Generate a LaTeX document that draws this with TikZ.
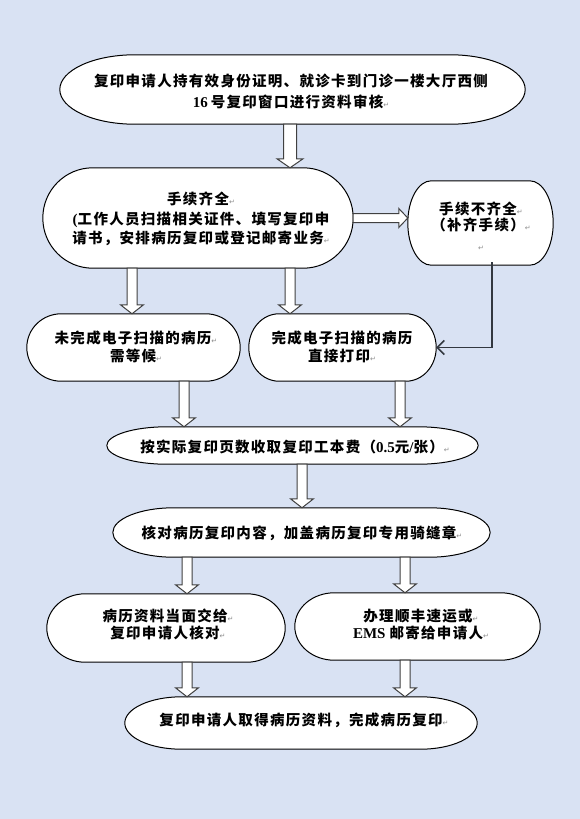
\documentclass[tikz,border=0pt]{standalone}
\usepackage{fontspec}
\usetikzlibrary{calc,arrows.meta}
\newfontfamily\cjk{Noto Sans CJK SC}[LetterSpace=9]
\newfontfamily\latf{Liberation Serif}
\newfontfamily\djv{DejaVu Sans}
\definecolor{pagebg}{HTML}{D9E2F3}
\definecolor{arrgray}{HTML}{404040}
\definecolor{arrdark}{HTML}{333840}
\definecolor{markgray}{HTML}{8C8C8C}
\newcommand\rmk{{\djv\mdseries\fontsize{7}{7}\selectfont\textcolor{markgray}{↵}}}
\newcommand\lt[1]{{\latf\bfseries\fontsize{15}{19}\selectfont #1}}
\pgfdeclarelayer{bgl}
\pgfdeclarelayer{shp}
\pgfsetlayers{bgl,shp,main}
\tikzset{
  shapeline/.style={draw=black, fill=white, line width=1pt},
  shp/.style 2 args={minimum width=#1pt, minimum height=#2pt, inner sep=0pt, draw=none},
  txt/.style={align=center, inner sep=0pt, font=\cjk\bfseries\fontsize{14.5}{#1}\selectfont},
  txt/.default=19,
  blkd/.style args={#1/#2/#3}{draw=arrgray, fill=white, line width=1pt, line join=miter,
    to path={let \p1=(\tikztostart), \p2=(\tikztotarget) in
      (\x1-#1pt,\y1) -- (\x1-#1pt,\y2+#3pt) -- (\x1-#2pt,\y2+#3pt) -- (\x1,\y2)
      -- (\x1+#2pt,\y2+#3pt) -- (\x1+#1pt,\y2+#3pt) -- (\x1+#1pt,\y1) -- cycle}},
  blkr/.style args={#1/#2/#3}{draw=arrgray, fill=white, line width=1pt, line join=miter,
    to path={let \p1=(\tikztostart), \p2=(\tikztotarget) in
      (\x1,\y1+#1pt) -- (\x2-#3pt,\y1+#1pt) -- (\x2-#3pt,\y1+#2pt) -- (\x2,\y1)
      -- (\x2-#3pt,\y1-#2pt) -- (\x2-#3pt,\y1-#1pt) -- (\x1,\y1-#1pt) -- cycle}},
  thinarr/.style={draw=arrdark, line width=1.5pt, -{Straight Barb[length=7pt,width=14pt]}}
}
\newcommand\termshape[1]{%
  \draw[shapeline] let \p1=(#1.south west), \p2=(#1.north east),
    \n1={0.161*(\x2-\x1)}, \n2={(\y2-\y1)/2} in
    (\x1+\n1,\y2) -- (\x2-\n1,\y2)
    arc[start angle=90, end angle=-90, x radius=\n1, y radius=\n2]
    -- (\x1+\n1,\y1)
    arc[start angle=270, end angle=90, x radius=\n1, y radius=\n2] -- cycle;}
\begin{document}
\begin{tikzpicture}[x=1pt,y=-1pt]
\useasboundingbox (0,0) rectangle (580,819);
\begin{pgfonlayer}{bgl}
  \fill[pagebg] (0,0) rectangle (580,819);
\end{pgfonlayer}

% shape frames
\node[shp={465}{69}]  (e1)  at (292.5,89.5) {};
\node[shp={310}{100}] (b2)  at (198,218) {};
\node[shp={145}{84}]  (b3)  at (480.5,223) {};
\node[shp={213}{67}]  (b4)  at (133.5,347.5) {};
\node[shp={187}{67}]  (b5)  at (342.5,347.5) {};
\node[shp={371}{37}]  (e6)  at (292.5,445.5) {};
\node[shp={377}{49}]  (e7)  at (301.5,532.5) {};
\node[shp={238}{68}]  (b8)  at (166,628) {};
\node[shp={245}{67}]  (b9)  at (417.5,626.5) {};
\node[shp={352}{52}]  (e10) at (301,723) {};

\begin{pgfonlayer}{shp}
  \termshape{e1}\termshape{b2}\termshape{b3}\termshape{b4}\termshape{b5}
  \termshape{e6}\termshape{e7}\termshape{b8}\termshape{b9}\termshape{e10}
\end{pgfonlayer}

% texts
\node[txt=21, anchor=north] (t1) at (291,74)
  {复印申请人持有效身份证明、就诊卡到门诊一楼大厅西侧\\\lt{16}\hspace{3pt}号复印窗口进行资料审核\rmk};
\node[txt=19.5, anchor=north] (t2) at (201,192)
  {手续齐全\rmk\\\lt{(}工作人员扫描相关证件、填写复印申\\请书，安排病历复印或登记邮寄业务\rmk};
\node[txt=16, anchor=north] (t3) at (481,202)
  {手续不齐全\rmk\\（补齐手续）\rmk\\[4pt]\rmk};
\node[txt=17.5, anchor=north] (t4) at (136,331)
  {未完成电子扫描的病历\rmk\\需等候\rmk};
\node[txt=17.5, anchor=north] (t5) at (342,331)
  {完成电子扫描的病历\\直接打印\rmk};
\node[txt] (t6) at (295,447)
  {按实际复印页数收取复印工本费（\lt{0.5}元\lt{/}张）\rmk};
\node[txt] (t7) at (302,533)
  {核对病历复印内容，加盖病历复印专用骑缝章\rmk};
\node[txt=17, anchor=north] (t8) at (168,609)
  {病历资料当面交给\rmk\\复印申请人核对\rmk};
\node[txt=17, anchor=north] (t9) at (421,609)
  {办理顺丰速运或\rmk\\\lt{EMS}\hspace{4pt}邮寄给申请人\rmk};
\node[txt] (t10) at (304,720)
  {复印申请人取得病历资料，完成病历复印\rmk};

% column coordinates
\coordinate (c132) at (132,0);
\coordinate (c184) at (184,0);
\coordinate (c187) at (187,0);
\coordinate (c290) at (290,0);
\coordinate (c302) at (302,0);
\coordinate (c400) at (400,0);
\coordinate (c405) at (405,0);
\coordinate (c492) at (492,0);

% block arrows
\draw[blkd=6.5/13/9] (e1.south -| c290) to (b2.north -| c290);
\draw[blkr=4.5/9.5/9] (b2.east) to (b2.east -| b3.west);
\draw[blkd=5/11.5/9] (b2.south -| c132) to (b4.north -| c132);
\draw[blkd=5/11.5/9] (b2.south -| c290) to (b5.north -| c290);
\draw[blkd=5/11.5/9] (b4.south -| c184) to (e6.north -| c184);
\draw[blkd=5/11.5/9] (b5.south -| c400) to (e6.north -| c400);
\draw[blkd=5/11.5/9] (e6.south -| c302) to (e7.north -| c302);
\draw[blkd=5/11.5/9] (e7.south -| c187) to (b8.north -| c187);
\draw[blkd=5/11.5/9] (e7.south -| c405) to (b9.north -| c405);
\draw[blkd=5/11.5/9] (b8.south -| c187) to (e10.north -| c187);
\draw[blkd=5/11.5/9] (b9.south -| c405) to (e10.north -| c405);

% thin connector
\draw[thinarr] ([yshift=3pt]b3.south -| c492) |- (b5.east);
\end{tikzpicture}
\end{document}
